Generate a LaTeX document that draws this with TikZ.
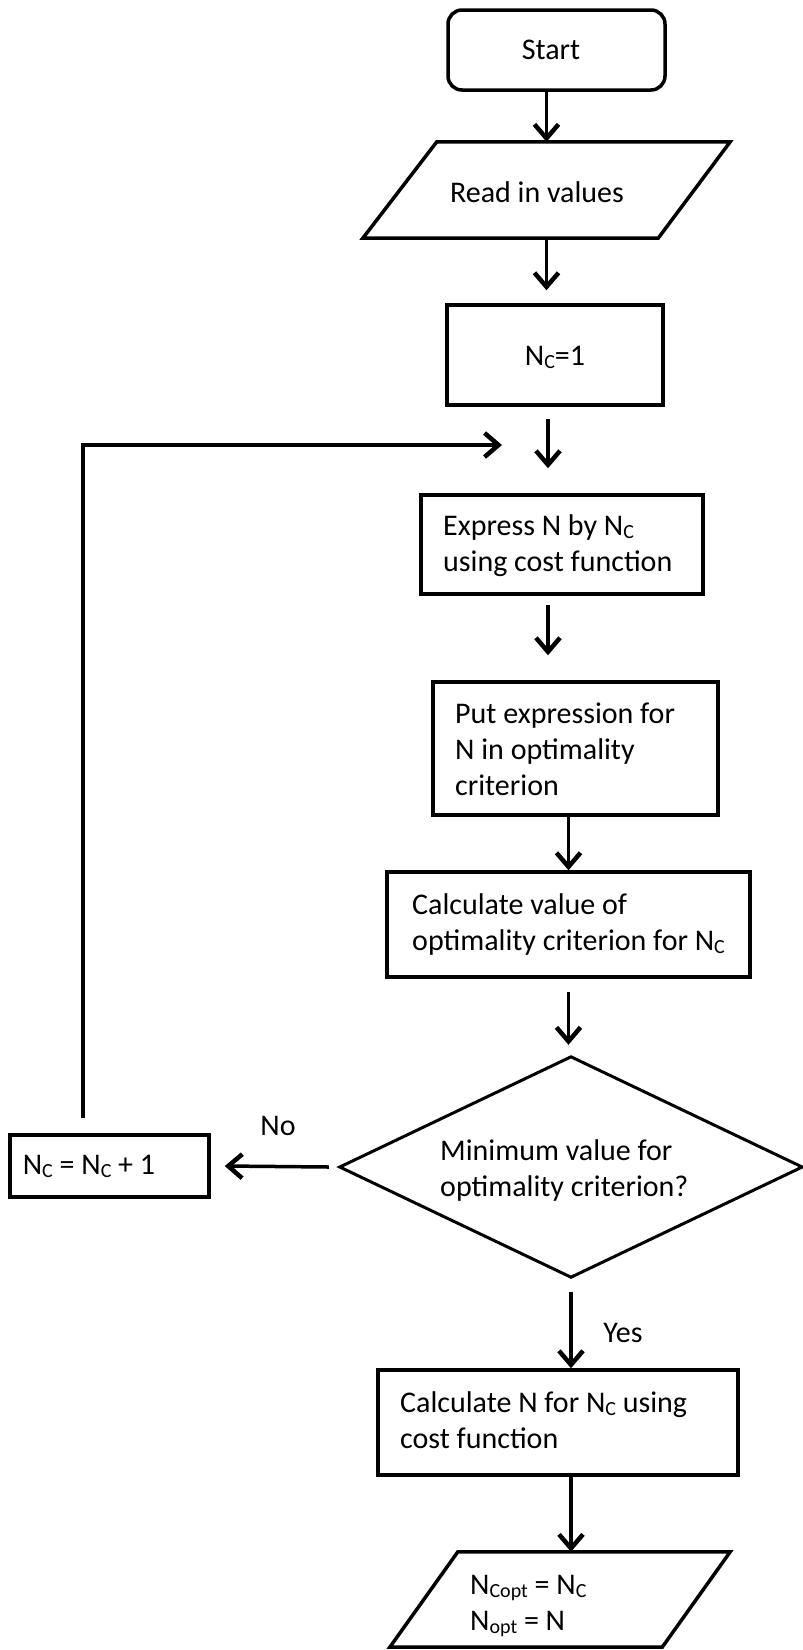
\documentclass[tikz,border=0pt]{standalone}
\usepackage{fontspec}
\setmainfont{Carlito}
\usetikzlibrary{arrows.meta,calc}
\newcommand{\lowsub}[1]{\raisebox{-3pt}{\fontsize{20}{20}\selectfont #1}}
\begin{document}
\begin{tikzpicture}[x=1pt,y=-1pt,
  every node/.style={font=\fontsize{30}{36}\selectfont},
  box/.style={draw, line width=3.5pt, inner sep=0pt},
  plain/.style={inner sep=0pt},
  txt/.style={inner sep=0pt, align=left, anchor=west},
  shp/.style={line width=3.5pt, line join=miter},
  arr/.style={line width=3.5pt, -{Straight Barb[length=14pt,width=24pt,line width=4.5pt]}}]
\useasboundingbox[fill=white] (0,0) rectangle (803,1650);

% Start
\node[box, rounded corners=14pt, minimum width=217pt, minimum height=80pt] (start) at (556.5,50) {};
\node[plain] (starttxt) at (551,50) {Start};

% Read in values
\node[plain, minimum width=367pt, minimum height=96pt] (read) at (546.5,190) {};
\draw[shp] ($(read.north west)+(74,0)$) -- (read.north east) -- ($(read.south east)+(-72,0)$) -- (read.south west) -- cycle;
\node[plain] (readtxt) at (537,192) {Read in values};

% Nc = 1
\node[box, minimum width=216pt, minimum height=100pt] (nc1) at (555,355) {};
\node[plain] (nc1txt) at (555,357) {N\lowsub{C}=1};

\coordinate (join) at (548,445);

% Express
\node[box, minimum width=282pt, minimum height=99pt] (expr) at (562,544.5) {};
\node[txt] (exprtxt) at (443,545.5) {Express N by N\lowsub{C}\\using cost function};

% Put expression
\node[box, minimum width=285pt, minimum height=133pt] (put) at (575.5,748.5) {};
\node[txt] (puttxt) at (455,749) {Put expression for\\N in optimality\\criterion};

% Calculate value
\node[box, minimum width=363pt, minimum height=105pt] (calc) at (568.5,924.5) {};
\node[txt] (calctxt) at (412,924.5) {Calculate value of\\optimality criterion for N\lowsub{C}};

% Decision
\node[plain, minimum width=462pt, minimum height=220pt] (dec) at (571,1167) {};
\draw[line width=3pt, line join=miter] (dec.north) -- (dec.east) -- (dec.south) -- (dec.west) -- cycle;
\node[txt] (dectxt) at (440,1170) {Minimum value for\\optimality criterion?};

% Nc = Nc + 1
\node[box, minimum width=199pt, minimum height=62pt] (inc) at (109.5,1166) {};
\node[plain] (inctxt) at (89,1166) {N\lowsub{C} = N\lowsub{C} + 1};

\node[plain] (no) at (278,1126) {No};
\node[plain] (yes) at (623,1333) {Yes};

% Calculate N
\node[box, minimum width=360pt, minimum height=105pt] (calcn) at (558,1422.5) {};
\node[txt] (calcntxt) at (400,1420) {Calculate N for N\lowsub{C} using\\cost function};

% Output
\node[plain, minimum width=340pt, minimum height=95pt] (out) at (560,1599.5) {};
\draw[shp] ($(out.north west)+(68,0)$) -- (out.north east) -- ($(out.south east)+(-68,0)$) -- (out.south west) -- cycle;
\node[txt] (outtxt) at (470,1606) {N\lowsub{Copt} = N\lowsub{C}\\N\lowsub{opt} = N};

% Connectors
\draw[arr] (start.south -| read.north) -- (read.north);
\draw[arr] (read.south) -- ([yshift=13pt]nc1.north -| read.south);
\draw[arr] ([yshift=-12pt]nc1.south -| join) -- ([yshift=25pt]expr.north -| join);
\draw[arr] ([xshift=-26.5pt,yshift=15pt]inc.north) |- ([xshift=-46pt]join);
\draw[arr] ([yshift=-9pt]expr.south -| join) -- ([yshift=25pt]put.north -| join);
\draw[arr] (put.south -| calc.north) -- (calc.north);
\draw[arr] ([yshift=-13pt]calc.south) -- ([yshift=12pt]dec.north -| calc.south);
\draw[arr] ([xshift=-11pt]dec.west) -- ([xshift=14pt]inc.east);
\draw[arr] ([yshift=-15pt]dec.south) -- (dec.south |- calcn.north);
\draw[arr] (calcn.south -| dec.south) -- (dec.south |- out.north);
\end{tikzpicture}
\end{document}
